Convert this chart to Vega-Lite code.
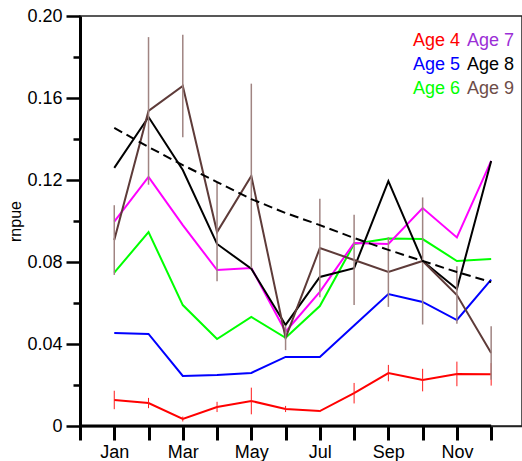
{
  "$schema": "https://vega.github.io/schema/vega-lite/v6.json",
  "width": 442,
  "height": 410,
  "autosize": {"type": "none"},
  "padding": {"left": 80, "top": 16, "right": 0, "bottom": 35},
  "config": {
    "view": {"stroke": "#222222", "strokeWidth": 1.5},
    "font": "Liberation Sans"
  },
  "datasets": {
    "series": [
      {"month": 1, "age": "Age 4", "value": 0.0127, "lo": 0.0082, "hi": 0.0172},
      {"month": 2, "age": "Age 4", "value": 0.0112, "lo": 0.0087, "hi": 0.0137},
      {"month": 3, "age": "Age 4", "value": 0.0034, "lo": 0.0022, "hi": 0.0046},
      {"month": 4, "age": "Age 4", "value": 0.0093, "lo": 0.0068, "hi": 0.0118},
      {"month": 5, "age": "Age 4", "value": 0.0122, "lo": 0.0057, "hi": 0.0187},
      {"month": 6, "age": "Age 4", "value": 0.0083, "lo": 0.0068, "hi": 0.0098},
      {"month": 7, "age": "Age 4", "value": 0.0073, "lo": 0.0068, "hi": 0.0078},
      {"month": 8, "age": "Age 4", "value": 0.016, "lo": 0.011, "hi": 0.021},
      {"month": 9, "age": "Age 4", "value": 0.0258, "lo": 0.0218, "hi": 0.0298},
      {"month": 10, "age": "Age 4", "value": 0.0224, "lo": 0.0169, "hi": 0.0279},
      {"month": 11, "age": "Age 4", "value": 0.0254, "lo": 0.0194, "hi": 0.0314},
      {"month": 12, "age": "Age 4", "value": 0.0252, "lo": 0.0197, "hi": 0.0307},
      {"month": 1, "age": "Age 5", "value": 0.0454},
      {"month": 2, "age": "Age 5", "value": 0.0449},
      {"month": 3, "age": "Age 5", "value": 0.0244},
      {"month": 4, "age": "Age 5", "value": 0.0249},
      {"month": 5, "age": "Age 5", "value": 0.0259},
      {"month": 6, "age": "Age 5", "value": 0.0337},
      {"month": 7, "age": "Age 5", "value": 0.0337},
      {"month": 8, "age": "Age 5", "value": 0.049},
      {"month": 9, "age": "Age 5", "value": 0.0644},
      {"month": 10, "age": "Age 5", "value": 0.0605},
      {"month": 11, "age": "Age 5", "value": 0.0517},
      {"month": 12, "age": "Age 5", "value": 0.0714},
      {"month": 1, "age": "Age 6", "value": 0.0748},
      {"month": 2, "age": "Age 6", "value": 0.0946},
      {"month": 3, "age": "Age 6", "value": 0.059},
      {"month": 4, "age": "Age 6", "value": 0.0424},
      {"month": 5, "age": "Age 6", "value": 0.0532},
      {"month": 6, "age": "Age 6", "value": 0.043},
      {"month": 7, "age": "Age 6", "value": 0.0585},
      {"month": 8, "age": "Age 6", "value": 0.0888},
      {"month": 9, "age": "Age 6", "value": 0.0915},
      {"month": 10, "age": "Age 6", "value": 0.0912},
      {"month": 11, "age": "Age 6", "value": 0.0805},
      {"month": 12, "age": "Age 6", "value": 0.0815},
      {"month": 1, "age": "Age 7", "value": 0.0997},
      {"month": 2, "age": "Age 7", "value": 0.1215},
      {"month": 3, "age": "Age 7", "value": 0.098},
      {"month": 4, "age": "Age 7", "value": 0.0761},
      {"month": 5, "age": "Age 7", "value": 0.0771},
      {"month": 6, "age": "Age 7", "value": 0.046},
      {"month": 7, "age": "Age 7", "value": 0.0654},
      {"month": 8, "age": "Age 7", "value": 0.0893},
      {"month": 9, "age": "Age 7", "value": 0.0888},
      {"month": 10, "age": "Age 7", "value": 0.1063},
      {"month": 11, "age": "Age 7", "value": 0.092},
      {"month": 12, "age": "Age 7", "value": 0.1293},
      {"month": 1, "age": "Age 8", "value": 0.1259},
      {"month": 2, "age": "Age 8", "value": 0.1507},
      {"month": 3, "age": "Age 8", "value": 0.1249},
      {"month": 4, "age": "Age 8", "value": 0.0888},
      {"month": 5, "age": "Age 8", "value": 0.0767},
      {"month": 6, "age": "Age 8", "value": 0.0493},
      {"month": 7, "age": "Age 8", "value": 0.0727},
      {"month": 8, "age": "Age 8", "value": 0.077},
      {"month": 9, "age": "Age 8", "value": 0.1195},
      {"month": 10, "age": "Age 8", "value": 0.0805},
      {"month": 11, "age": "Age 8", "value": 0.0668},
      {"month": 12, "age": "Age 8", "value": 0.1293},
      {"month": 1, "age": "Age 9", "value": 0.0907, "lo": 0.0737, "hi": 0.1077},
      {"month": 2, "age": "Age 9", "value": 0.1537, "lo": 0.1177, "hi": 0.1897},
      {"month": 3, "age": "Age 9", "value": 0.1659, "lo": 0.1409, "hi": 0.1909},
      {"month": 4, "age": "Age 9", "value": 0.0946, "lo": 0.0706, "hi": 0.1186},
      {"month": 5, "age": "Age 9", "value": 0.122, "lo": 0.077, "hi": 0.167},
      {"month": 6, "age": "Age 9", "value": 0.043, "lo": 0.037, "hi": 0.049},
      {"month": 7, "age": "Age 9", "value": 0.0868, "lo": 0.0628, "hi": 0.1108},
      {"month": 8, "age": "Age 9", "value": 0.081, "lo": 0.059, "hi": 0.103},
      {"month": 9, "age": "Age 9", "value": 0.0751, "lo": 0.0581, "hi": 0.0921},
      {"month": 10, "age": "Age 9", "value": 0.0805, "lo": 0.0495, "hi": 0.1115},
      {"month": 11, "age": "Age 9", "value": 0.0639, "lo": 0.0499, "hi": 0.0779},
      {"month": 12, "age": "Age 9", "value": 0.0356, "lo": 0.0226, "hi": 0.0486}
    ],
    "trend": [
      {"month": 1, "trend": 0.1454},
      {"month": 2, "trend": 0.1361},
      {"month": 3, "trend": 0.1273},
      {"month": 4, "trend": 0.119},
      {"month": 5, "trend": 0.1107},
      {"month": 6, "trend": 0.1039},
      {"month": 7, "trend": 0.098},
      {"month": 8, "trend": 0.0917},
      {"month": 9, "trend": 0.0859},
      {"month": 10, "trend": 0.0805},
      {"month": 11, "trend": 0.0751},
      {"month": 12, "trend": 0.0702}
    ]
  },
  "encoding": {
    "x": {
      "field": "month", "type": "quantitative",
      "scale": {"domain": [0, 12.9], "nice": false, "zero": false},
      "axis": {
        "title": null,
        "values": [0, 1, 2, 3, 4, 5, 6, 7, 8, 9, 10, 11, 12],
        "labelExpr": "datum.value == 1 ? 'Jan' : datum.value == 3 ? 'Mar' : datum.value == 5 ? 'May' : datum.value == 7 ? 'Jul' : datum.value == 9 ? 'Sep' : datum.value == 11 ? 'Nov' : ''",
        "grid": false,
        "domainColor": "#222222",
        "domainWidth": 1.5,
        "tickColor": "#000000",
        "tickSize": 14,
        "tickWidth": 3,
        "labelFontSize": 18,
        "labelColor": "#000000",
        "labelPadding": 3,
        "labelFlush": false,
        "labelOverlap": false,
        "labelBound": false
      }
    }
  },
  "layer": [
    {
      "data": {"name": "series"},
      "mark": {"type": "line", "strokeWidth": 2},
      "encoding": {
        "y": {
          "field": "value", "type": "quantitative",
          "scale": {"domain": [0, 0.2], "nice": false},
          "axis": {
            "title": "rnpue",
            "titleFontSize": 16,
            "titleFontWeight": "normal",
            "titleColor": "#000000",
            "titlePadding": 3,
            "values": [0, 0.02, 0.04, 0.06, 0.08, 0.1, 0.12, 0.14, 0.16, 0.18, 0.2],
            "labelExpr": "round(datum.value * 50) % 2 === 0 ? (datum.value === 0 ? '0' : format(datum.value, '.2f')) : ''",
            "grid": false,
            "domainColor": "#000000",
            "domainWidth": 3,
            "tickColor": "#000000",
            "tickWidth": 2.5,
            "tickSize": {"condition": {"test": "round(datum.value * 50) % 2 === 0", "value": 14}, "value": 7},
            "labelFontSize": 18,
            "labelColor": "#000000",
            "labelPadding": 4,
            "labelOverlap": false
          }
        },
        "color": {
          "field": "age", "type": "nominal",
          "scale": {
            "domain": ["Age 4", "Age 5", "Age 6", "Age 7", "Age 8", "Age 9"],
            "range": ["#ff0000", "#0000ff", "#00ff00", "#ff00ff", "#000000", "#5e3b39"]
          },
          "legend": {
            "title": null,
            "orient": "none",
            "legendX": 327,
            "legendY": 16,
            "padding": 0,
            "columns": 2,
            "columnPadding": 0,
            "rowPadding": 6,
            "symbolType": "square",
            "symbolSize": 1,
            "symbolStrokeWidth": 0,
            "symbolOpacity": 0,
            "labelOffset": -12,
            "labelFontSize": 18,
            "labelLimit": 200,
            "encode": {
              "labels": {
                "update": {
                  "fill": {"signal": "datum.value === 'Age 7' ? '#9b2fd6' : datum.value === 'Age 9' ? '#6e4d49' : scale('color', datum.value)"}
                }
              }
            }
          }
        }
      }
    },
    {
      "data": {"name": "series"},
      "transform": [{"filter": "datum.age === 'Age 4'"}],
      "mark": {"type": "rule", "color": "#ff1a1a", "strokeWidth": 1},
      "encoding": {
        "y": {"field": "lo", "type": "quantitative"},
        "y2": {"field": "hi"}
      }
    },
    {
      "data": {"name": "series"},
      "transform": [{"filter": "datum.age === 'Age 9'"}],
      "mark": {"type": "rule", "color": "#a08482", "strokeWidth": 1.5},
      "encoding": {
        "y": {"field": "lo", "type": "quantitative"},
        "y2": {"field": "hi"}
      }
    },
    {
      "data": {"name": "trend"},
      "mark": {"type": "line", "color": "#000000", "strokeWidth": 2, "strokeDash": [9, 5]},
      "encoding": {
        "y": {"field": "trend", "type": "quantitative"}
      }
    },
    {
      "data": {"values": [{"month": 0, "end": 12, "base": 0}]},
      "mark": {"type": "rule", "color": "#000000", "strokeWidth": 3},
      "encoding": {
        "x2": {"field": "end"},
        "y": {"field": "base", "type": "quantitative"}
      }
    }
  ]
}
